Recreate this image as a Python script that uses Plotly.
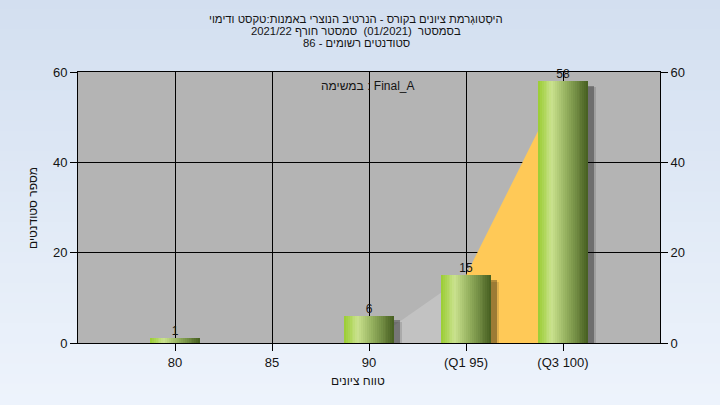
import plotly.graph_objects as go

# ---- data ----
categories = ["80", "85", "90", "(Q1 95)", "(Q3 100)"]
counts = [1, 0, 6, 15, 58]
count_labels = ["1", "", "6", "15", "58"]
low_area_x = ["90", "(Q1 95)"]
low_area_y = [0, 15]
quart_area_x = ["(Q1 95)", "(Q3 100)"]
quart_area_y = [15, 58]
y_ticks = [0, 20, 40, 60]

title_lines = [
    "היסְטוגְרמת ציונים בקורס - הנרטיב הנוצרי באמנות:טקסט ודימוי",
    "בסמסטר  (01/2021)  סמסטר חורף 2021/22",
    "סטודנטים רשומים - 86",
]
task_label = "במשימה : Final_A"
x_title = "טווח ציונים"
y_title = "מספר סטודנטים"

FONT = "Liberation Sans, Arial, sans-serif"
TXT = "#141414"

# layout geometry (pixels)
W, H = 720, 405
L, R, T, B = 78, 60, 72, 62
pw, ph = W - L - R, H - T - B


def py(ypix):
    return (H - B - ypix) / ph


def px(xpix):
    return (xpix - L) / pw


fig = go.Figure()

# filled areas (behind bars, on base subplot)
fig.add_trace(go.Scatter(x=low_area_x, y=low_area_y, mode="lines", fill="tozeroy",
                         line=dict(width=0, color="#c2c2c2"), fillcolor="#c2c2c2",
                         hoverinfo="skip", showlegend=False))
fig.add_trace(go.Scatter(x=quart_area_x, y=quart_area_y, mode="lines", fill="tozeroy",
                         line=dict(width=0, color="#ffc957"), fillcolor="#ffc957",
                         hoverinfo="skip", showlegend=False))

BAR_W = 0.52
# shadows (on overlaying subplot so they sit above the areas)
for dx, dy, col in [(0.085, 1.4, "rgba(0,0,0,0.12)"), (0.06, 1.0, "rgba(0,0,0,0.30)")]:
    fig.add_trace(go.Bar(x=categories, y=counts, base=-dy, width=BAR_W, yaxis="y2",
                         offset=-BAR_W / 2 + dx, marker=dict(color=col, line=dict(width=0)),
                         hoverinfo="skip", showlegend=False))


def lerp(c1, c2, t):
    return tuple(round(a + (b - a) * t) for a, b in zip(c1, c2))


stops = [(0.0, (154, 205, 50), ), (0.28, (202, 226, 142)), (0.55, (150, 178, 96)), (1.0, (70, 94, 32))]


def grad(t):
    for (t0, c0), (t1, c1) in zip(stops[:-1], stops[1:]):
        if t <= t1:
            return lerp(c0, c1, (t - t0) / (t1 - t0))
    return stops[-1][1]


N = 26
sw = BAR_W / N
for i in range(N):
    c = grad((i + 0.5) / N)
    fig.add_trace(go.Bar(x=categories, y=counts, width=sw * 1.08, yaxis="y2",
                         offset=-BAR_W / 2 + i * sw,
                         marker=dict(color="rgb(%d,%d,%d)" % c, line=dict(width=0)),
                         hoverinfo="skip", showlegend=False))

# value labels
fig.add_trace(go.Scatter(x=categories, y=counts, mode="text", text=count_labels, yaxis="y2",
                         textposition="top center",
                         textfont=dict(family=FONT, size=12, color=TXT),
                         hoverinfo="skip", showlegend=False, cliponaxis=False))

# background gradient
shapes = []
NS = 40
for i in range(NS):
    t = i / NS
    c = lerp((211, 223, 240), (238, 244, 252), t)
    y0 = H * t - 1
    y1 = H * (t + 1 / NS) + 1
    shapes.append(dict(type="rect", xref="paper", yref="paper", layer="below",
                       x0=px(-2), x1=px(W + 2), y0=py(y1), y1=py(y0),
                       fillcolor="rgb(%d,%d,%d)" % c, line=dict(width=0)))
shapes.append(dict(type="rect", xref="x domain", yref="y domain", layer="below",
                   x0=0, x1=1, y0=0, y1=1, fillcolor="#b4b4b4", line=dict(width=0)))

annotations = []
for ln, yp in zip(title_lines, [19, 31, 43]):
    annotations.append(dict(text=ln, xref="paper", yref="paper", x=px(356), y=py(yp),
                            xanchor="center", yanchor="middle", showarrow=False,
                            font=dict(family=FONT, size=11.3, color=TXT)))
annotations.append(dict(text=task_label, xref="paper", yref="paper", x=px(368), y=py(86),
                        xanchor="center", yanchor="middle", showarrow=False,
                        font=dict(family=FONT, size=12, color=TXT)))
annotations.append(dict(text=x_title, xref="paper", yref="paper", x=px(358), y=py(381),
                        xanchor="center", yanchor="middle", showarrow=False,
                        font=dict(family=FONT, size=12, color=TXT)))
annotations.append(dict(text=y_title, xref="paper", yref="paper", x=px(33), y=py(208),
                        xanchor="center", yanchor="middle", showarrow=False, textangle=-90,
                        font=dict(family=FONT, size=12, color=TXT)))

axis_common = dict(showline=True, linecolor="black", linewidth=1, ticks="outside",
                   ticklen=7, tickcolor="black", tickfont=dict(family=FONT, size=13, color=TXT))

fig.update_layout(
    width=W, height=H,
    margin=dict(l=L, r=R, t=T, b=B, pad=0),
    paper_bgcolor="#e2eaf6", plot_bgcolor="#b4b4b4",
    barmode="overlay", bargap=0,
    showlegend=False,
    shapes=shapes, annotations=annotations,
    xaxis=dict(type="category", categoryorder="array", categoryarray=categories,
               range=[-1, 5], showgrid=True, gridcolor="black", gridwidth=1,
               mirror=True, zeroline=False, **axis_common),
    yaxis=dict(range=[0, 60], tickvals=y_ticks, showgrid=True, gridcolor="black",
               gridwidth=1, zeroline=False, mirror=True, **axis_common),
    yaxis2=dict(range=[0, 60], tickvals=y_ticks, overlaying="y", side="right",
                showgrid=False, zeroline=False, **axis_common),
)

fig.write_html("out.html", config={"displayModeBar": False},
               post_script="document.body.style.margin='0';document.body.style.overflow='hidden';")
